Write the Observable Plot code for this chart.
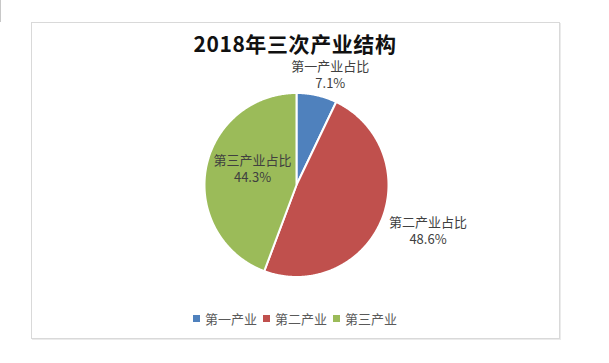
<!DOCTYPE html>
<html>
<head>
<meta charset="utf-8">
<script src="https://cdn.jsdelivr.net/npm/d3@7"></script>
<script src="https://cdn.jsdelivr.net/npm/@observablehq/plot@0.6"></script>
<style>
  html, body { margin: 0; padding: 0; background: #fff; width: 609px; height: 363px; overflow: hidden;
    font-family: "Noto Sans CJK SC", "Noto Sans", sans-serif; }
  #wrap { position: relative; width: 609px; height: 363px; }
  #edge { position: absolute; left: 0; top: 0; width: 1px; height: 22px; background: #c8c8c8; }
  #frame { position: absolute; left: 31px; top: 22px; width: 527px; height: 315px;
    border: 1px solid #d9d9d9; box-shadow: 1px 1px 0 #ebebeb; }
  #title { position: absolute; left: 0; top: 32px; width: 590px; text-align: center;
    font-size: 21px; line-height: 23px; font-weight: 600; color: #111; letter-spacing: 0.6px; }
  #chart { position: absolute; left: 0; top: 0; }
  #legend { position: absolute; left: 193px; top: 311px; display: flex; align-items: center;
    font-size: 13px; line-height: 15px; color: #595959; }
  #legend .item { display: flex; align-items: center; margin-right: 6px; }
  #legend .sw { width: 7px; height: 7px; margin-right: 5px; }
</style>
</head>
<body>
<div id="wrap">
  <div id="edge"></div>
  <div id="frame"></div>
  <div id="chart"></div>
  <div id="title"></div>
  <div id="legend"></div>
</div>
<script>
// ---- data ----
const chartTitle = "2018年三次产业结构";
const categories = ["第一产业", "第二产业", "第三产业"];
const labelNames = ["第一产业占比", "第二产业占比", "第三产业占比"];
const shares = [7.1, 48.6, 44.3];
const colors = ["#4F81BD", "#C0504D", "#9BBB59"];

// ---- layout (not data) ----
const labelRadius = [1.22, 1.5, 0.5];           // label anchor radius (in pie radii)
const labelNudge = [[9, -1.5], [4.5, -8.7], [1.3, -8.8]]; // px nudges [dx, dy]
const R_PX = 92;

document.getElementById("title").textContent = chartTitle;

// build slice polygons from shares
const total = d3.sum(shares);
const slices = [];
const labels = [];
let acc = 0;
categories.forEach((name, i) => {
  const a0 = acc / total * 2 * Math.PI;
  acc += shares[i];
  const a1 = acc / total * 2 * Math.PI;
  const n = Math.max(2, Math.ceil((a1 - a0) / (Math.PI / 360)));
  slices.push({name, x: 0, y: 0});
  for (let k = 0; k <= n; k++) {
    const a = a0 + (a1 - a0) * k / n;
    slices.push({name, x: Math.sin(a), y: Math.cos(a)});
  }
  const mid = (a0 + a1) / 2;
  const r = labelRadius[i];
  labels.push({
    name,
    x: r * Math.sin(mid) + labelNudge[i][0] / R_PX,
    y: r * Math.cos(mid) - labelNudge[i][1] / R_PX,
    text: `${labelNames[i]}\n${d3.format(".1f")(shares[i])}%`
  });
});

const cx = 296, cy = 184.5;
const W = 609, H = 363;
const plot = Plot.plot({
  width: W,
  height: H,
  marginLeft: cx - R_PX,
  marginRight: W - (cx + R_PX),
  marginTop: cy - R_PX,
  marginBottom: H - (cy + R_PX),
  x: {domain: [-1, 1], axis: null},
  y: {domain: [-1, 1], axis: null},
  color: {domain: categories, range: colors},
  style: {background: "transparent", fontFamily: '"Noto Sans CJK SC", "Noto Sans", sans-serif', overflow: "visible"},
  marks: [
    Plot.line(slices, {x: "x", y: "y", z: "name", fill: "name", stroke: "white",
      strokeWidth: 2, strokeLinejoin: "round", curve: "linear-closed"}),
    Plot.text(labels, {x: "x", y: "y", text: "text", fill: "#404040", fontSize: 13,
      lineHeight: 1.3, lineAnchor: "middle", textAnchor: "middle"})
  ]
});
document.getElementById("chart").appendChild(plot);

// legend
const legend = document.getElementById("legend");
categories.forEach((name, i) => {
  const item = document.createElement("div");
  item.className = "item";
  const sw = document.createElement("span");
  sw.className = "sw";
  sw.style.background = colors[i];
  const t = document.createElement("span");
  t.textContent = name;
  item.appendChild(sw);
  item.appendChild(t);
  legend.appendChild(item);
});
</script>
</body>
</html>
